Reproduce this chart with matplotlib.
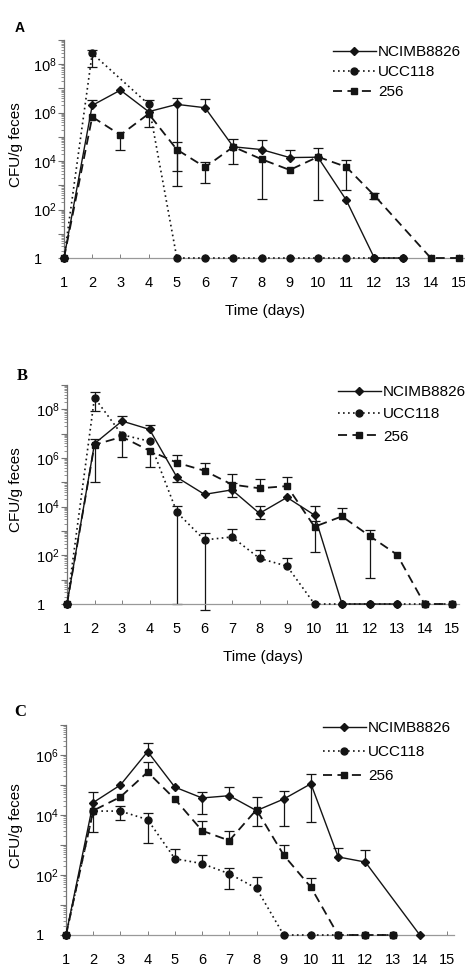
import matplotlib
matplotlib.use('Agg')
import matplotlib.pyplot as plt
from matplotlib.lines import Line2D
from matplotlib.ticker import LogLocator, NullFormatter
import numpy as np

plt.rcParams['font.family'] = ['Liberation Sans', 'DejaVu Sans']
plt.rcParams['mathtext.fontset'] = 'custom'
plt.rcParams['mathtext.rm'] = 'Liberation Sans'

nan = np.nan
days = np.arange(1, 16)
strains = ['NCIMB8826', 'UCC118', '256']

# ---- panel A ----
a_ncimb = [1, 2e6, 8.5e6, 1.1e6, 2.2e6, 1.6e6, 3.9e4, 3e4, 1.4e4, 1.45e4, 250, 1, 1, nan, nan]
a_ncimb_hi = [nan, 3.2e6, nan, nan, 4.2e6, 3.5e6, 7.9e4, 7.4e4, 3e4, 3.5e4, nan, nan, nan, nan, nan]
a_ncimb_lo = [nan, nan, nan, nan, 960, nan, nan, nan, nan, nan, nan, nan, nan, nan, nan]
a_ucc = [1, 2.8e8, nan, 2.2e6, 1, 1, 1, 1, 1, 1, 1, 1, 1, nan, nan]
a_ucc_hi = [nan, 4e8, nan, 3.2e6, nan, nan, nan, nan, nan, nan, nan, nan, nan, nan, nan]
a_ucc_lo = [nan, 8e7, nan, nan, nan, nan, nan, nan, nan, nan, nan, nan, nan, nan, nan]
a_256 = [1, 6.7e5, 1.2e5, 9e5, 3e4, 5.6e3, 3.9e4, 1.2e4, 4.3e3, 1.5e4, 5.8e3, 380, nan, 1, 1]
a_256_hi = [nan, nan, nan, nan, 5.9e4, 9e3, nan, nan, nan, nan, 1.07e4, 500, nan, nan, nan]
a_256_lo = [nan, nan, 2.8e4, 2.5e5, 3.9e3, 1.2e3, 7.5e3, 270, nan, 260, 640, 280, nan, nan, nan]

# ---- panel B ----
b_ncimb = [1, 3.9e6, 3.3e7, 1.5e7, 1.6e5, 3.2e4, 4.9e4, 5.3e3, 2.4e4, 4.5e3, 1, 1, 1, nan, nan]
b_ncimb_hi = [nan, 5.9e6, 5.5e7, 2.2e7, nan, nan, 9.5e4, 1.1e4, nan, 1.1e4, nan, nan, nan, nan, nan]
b_ncimb_lo = [nan, nan, nan, nan, 1e5, nan, 2.5e4, 3.1e3, nan, nan, nan, nan, nan, nan, nan]
b_ucc = [1, 3e8, 9e6, 4.9e6, 5.8e3, 430, 570, 75, 36, 1, 1, 1, 1, 1, 1]
b_ucc_hi = [nan, 5e8, nan, nan, 1.1e4, 810, 1.2e3, 160, 78, nan, nan, nan, nan, nan, nan]
b_ucc_lo = [nan, 8.5e7, nan, nan, 1, 0.55, nan, nan, nan, nan, nan, nan, nan, nan, nan]
b_256 = [1, 3.5e6, 7.4e6, 2e6, 6.4e5, 3e5, 8.1e4, 5.7e4, 7e4, 1.5e3, 4e3, 630, 107, 1, 1]
b_256_hi = [nan, nan, nan, nan, 1.3e6, 6e5, 2.2e5, 1.4e5, 1.6e5, 2.6e3, 8.7e3, 1.1e3, nan, nan, nan]
b_256_lo = [nan, 1.07e5, 1.1e6, 4.2e5, nan, nan, nan, nan, nan, 137, nan, 11.5, nan, nan, nan]

# ---- panel C ----
c_ncimb = [1, 2.6e4, 1e5, 1.3e6, 8.5e4, 3.7e4, 4.4e4, 1.4e4, 3.4e4, 1.1e5, 400, 270, nan, 1, nan]
c_ncimb_hi = [nan, 5.7e4, nan, 2.5e6, nan, 5.7e4, 8.9e4, 3.9e4, 6.2e4, 2.3e5, 770, 680, nan, nan, nan]
c_ncimb_lo = [nan, nan, nan, nan, nan, 1.1e4, nan, 4.2e3, 4.2e3, 5.7e3, nan, nan, nan, nan, nan]
c_ucc = [1, 1.35e4, 1.35e4, 7e3, 350, 240, 110, 36, 1, 1, 1, 1, 1, nan, nan]
c_ucc_hi = [nan, nan, 2e4, 1.2e4, 715, 480, 170, 84, nan, nan, nan, nan, nan, nan, nan]
c_ucc_lo = [nan, nan, 6.6e3, 1.2e3, nan, nan, 35, nan, nan, nan, nan, nan, nan, nan, nan]
c_256 = [1, 1.4e4, 4e4, 2.7e5, 3.4e4, 3e3, 1.4e3, 1.5e4, 460, 39, 1, 1, 1, nan, nan]
c_256_hi = [nan, nan, nan, 6e5, nan, 6.2e3, 2.9e3, nan, 1e3, 78, nan, nan, nan, nan, nan]
c_256_lo = [nan, 2.7e3, nan, nan, nan, nan, nan, nan, nan, nan, nan, nan, nan, nan, nan]

W, H = 465, 968
fig = plt.figure(figsize=(W / 100, H / 100), dpi=100)

styles = {
    'NCIMB8826': dict(ls='-', marker='D', ms=4, lw=1.0),
    'UCC118': dict(ls=(0, (1, 2)), marker='o', ms=5, lw=1.2),
    '256': dict(ls=(0, (5, 3)), marker='s', ms=5, lw=1.3),
}
ink = '0.08'


def make_axes(x1, x15, y1, ytop):
    sp = (x15 - x1) / 14
    right = x15 + 0.25 * sp
    ax = fig.add_axes([x1 / W, (H - y1) / H, (right - x1) / W, (y1 - ytop) / H])
    ax.set_xlim(1, 15.25)
    return ax


def draw_panel(ax, series, top_dec, letter, letter_xy, letter_font, leg_xy, leg_space, xlabel=True):
    ax.set_yscale('log')
    ax.set_ylim(1, 10 ** top_dec)
    for name, (vals, hi, lo) in zip(strains, series):
        vals = np.array(vals, dtype=float)
        hi = np.array(hi, dtype=float)
        lo = np.array(lo, dtype=float)
        m = ~np.isnan(vals)
        ax.plot(days[m], vals[m], color=ink, clip_on=False, zorder=3, **styles[name])
        for d, v, h, l in zip(days, vals, hi, lo):
            top = h if not np.isnan(h) else v
            bot = l if not np.isnan(l) else v
            if top == bot:
                continue
            ax.vlines(d, bot, top, color=ink, lw=0.9, zorder=2, clip_on=False)
            ends = [e for e in (h, l) if not np.isnan(e)]
            ax.plot([d] * len(ends), ends, ls='none', marker='_', ms=7, mew=0.9,
                    color=ink, clip_on=False, zorder=2)

    for s in ('top', 'right'):
        ax.spines[s].set_visible(False)
    ax.spines['left'].set_color('0.45')
    ax.spines['bottom'].set_color('0.6')
    ax.spines['left'].set_linewidth(0.9)
    ax.spines['bottom'].set_linewidth(0.9)

    ticks = [10.0 ** k for k in range(0, top_dec + 1)]
    labels = []
    for k in range(0, top_dec + 1):
        if k == 0:
            labels.append('1')
        elif k % 2 == 0:
            labels.append(r'$\mathregular{10^{%d}}$' % k)
        else:
            labels.append('')
    ax.set_yticks(ticks)
    ax.set_yticklabels(labels)
    ax.yaxis.set_minor_locator(LogLocator(base=10, subs=np.arange(2, 10), numticks=20))
    ax.yaxis.set_minor_formatter(NullFormatter())
    ax.tick_params(axis='y', which='major', direction='out', length=4, width=0.8,
                   color='0.45', labelsize=10.5, pad=18)
    ax.tick_params(axis='y', which='minor', direction='out', length=2, width=0.6, color='0.5')
    for lab in ax.get_yticklabels():
        lab.set_ha('left')

    ax.set_xticks(days)
    ax.set_xticklabels([str(d) for d in days])
    ax.tick_params(axis='x', direction='in', length=3, width=0.7, color='0.5',
                   labelsize=10.5, pad=13)

    ax.set_ylabel('CFU/g feces', fontsize=11)
    ax.yaxis.label.set_va('center')
    bb = ax.get_position()
    ax.yaxis.set_label_coords((16 / W - bb.x0) / bb.width, 0.52)
    if xlabel:
        ax.set_xlabel('Time (days)', fontsize=11, labelpad=10)

    fig.text(letter_xy[0] / W, 1 - letter_xy[1] / H, letter, fontsize=letter_font[1],
             fontweight='bold', family=letter_font[0], ha='left', va='center')

    handles = [Line2D([], [], color=ink, **styles[n]) for n in strains]
    ax.legend(handles, strains, loc='upper left', frameon=False, fontsize=11,
              bbox_to_anchor=(leg_xy[0] / W, 1 - leg_xy[1] / H), bbox_transform=fig.transFigure,
              borderpad=0, borderaxespad=0, handlelength=2.8, handletextpad=0.15,
              labelspacing=leg_space, numpoints=1)


axA = make_axes(64, 459, 258, 40)
draw_panel(axA, [(a_ncimb, a_ncimb_hi, a_ncimb_lo), (a_ucc, a_ucc_hi, a_ucc_lo),
                 (a_256, a_256_hi, a_256_lo)],
           9, 'A', (15, 28), ('Liberation Sans', 10), (333, 45), 0.4)

axB = make_axes(67, 452, 604, 385)
draw_panel(axB, [(b_ncimb, b_ncimb_hi, b_ncimb_lo), (b_ucc, b_ucc_hi, b_ucc_lo),
                 (b_256, b_256_hi, b_256_lo)],
           9, 'B', (17, 376), ('Liberation Serif', 12), (338, 385), 0.55)

axC = make_axes(66, 447, 935, 725)
draw_panel(axC, [(c_ncimb, c_ncimb_hi, c_ncimb_lo), (c_ucc, c_ucc_hi, c_ucc_lo),
                 (c_256, c_256_hi, c_256_lo)],
           7, 'C', (14, 712), ('Liberation Serif', 12), (323, 721), 0.65, xlabel=False)

fig.savefig('out.png', dpi=100)
